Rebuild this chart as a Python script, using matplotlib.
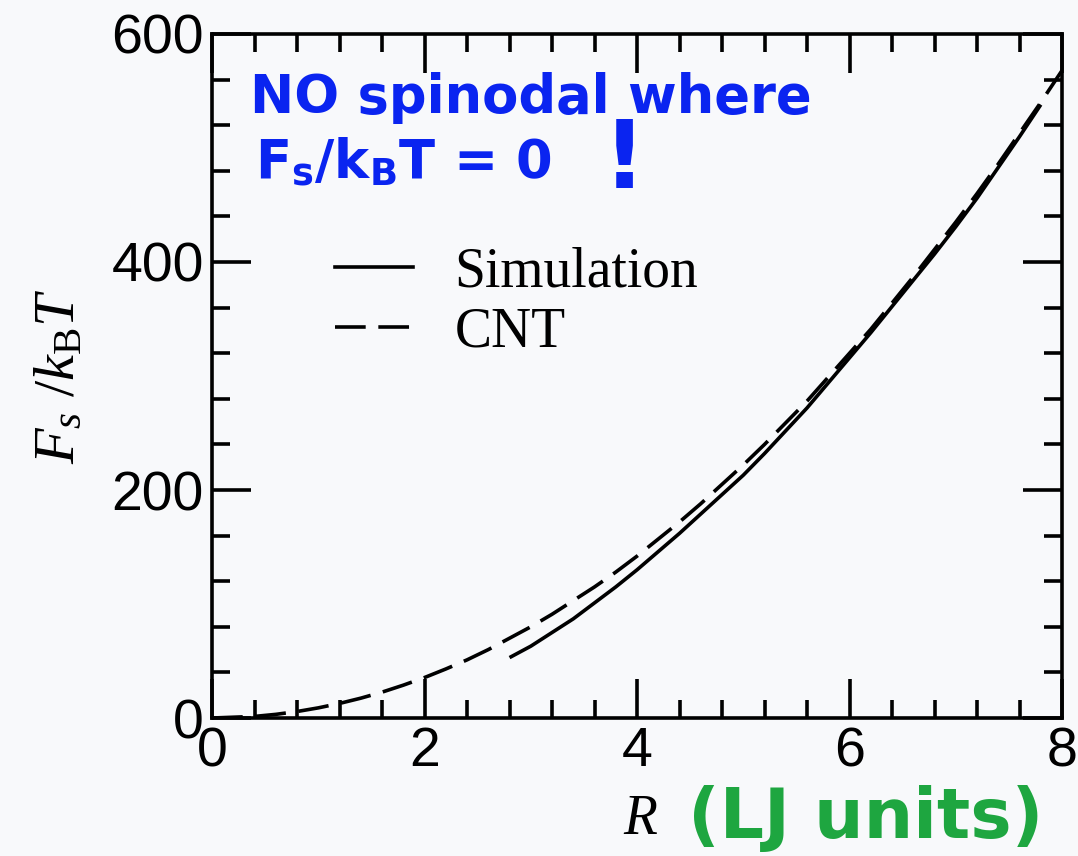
import matplotlib
matplotlib.use('Agg')
import matplotlib.pyplot as plt
from matplotlib.lines import Line2D
from matplotlib.ticker import MultipleLocator

# values
r_cnt = [0.0, 0.4, 0.6, 0.8, 1.0, 1.2, 1.4, 1.6, 1.8, 2.0, 2.2, 2.4, 2.6, 2.8, 3.0, 3.2, 3.4, 3.6, 3.8, 4.0,
         4.2, 4.4, 4.6, 4.8, 5.0, 5.2, 5.4, 5.6, 5.8, 6.0, 6.2, 6.4, 6.6, 6.8, 7.0, 7.2, 7.4, 7.6, 7.8, 8.0]
f_cnt = [0, 1.4, 3.2, 5.7, 8.9, 12.8, 17.4, 22.7, 28.8, 35.5, 43, 51, 60, 70, 80, 91, 103, 115, 128, 142,
         157, 172, 188, 205, 222, 240, 259, 278, 299, 320, 341, 364, 387, 411, 435, 460, 486, 513, 540, 568]
r_sim = [2.8, 3.0, 3.2, 3.4, 3.6, 3.8, 4.0, 4.2, 4.4, 4.6, 4.8, 5.0, 5.2, 5.4, 5.6, 5.8, 6.0, 6.2, 6.4,
         6.6, 6.8, 7.0, 7.2, 7.4, 7.6, 7.8]
f_sim = [53, 63, 75, 87, 101, 115, 130, 146, 162, 179, 196, 213, 232, 252, 272, 294, 316, 338, 361,
         384, 407, 431, 456, 483, 510, 538]
xticks = [0, 2, 4, 6, 8]
yticks = [0, 200, 400, 600]

plt.rcParams['mathtext.fontset'] = 'custom'
plt.rcParams['mathtext.rm'] = 'Liberation Serif'
plt.rcParams['mathtext.it'] = 'Liberation Serif:italic'
plt.rcParams['mathtext.bf'] = 'DejaVu Sans:bold'

BG = '#f8f9fb'
DASH = (8.5, 3.5)
fig = plt.figure(figsize=(10.78, 8.56), dpi=100, facecolor=BG)
ax = fig.add_axes([0.1967, 0.1612, 0.7885, 0.7991], facecolor=BG)

ax.plot(r_sim, f_sim, color='black', lw=2.6, solid_capstyle='butt')
cnt, = ax.plot(r_cnt, f_cnt, color='black', lw=2.6, dash_capstyle='butt')
cnt.set_dashes(DASH)

ax.set_xlim(0, 8)
ax.set_ylim(0, 600)
ax.set_xticks(xticks)
ax.set_yticks(yticks)
ax.xaxis.set_minor_locator(MultipleLocator(0.4))
ax.yaxis.set_minor_locator(MultipleLocator(40))
for s in ax.spines.values():
    s.set_linewidth(2.6)
ax.tick_params(which='both', direction='in', top=True, right=True, width=2.6, labelsize=40,
               labelfontfamily='Liberation Sans')
ax.tick_params(which='major', length=28, pad=6)
ax.tick_params(which='minor', length=13)

ax.set_ylabel(r'$F_s\ /k_{\rm B}T$', fontsize=42)
ax.yaxis.set_label_coords(-0.148, 0.5)

h1 = Line2D([], [], color='black', lw=2.6)
h2 = Line2D([], [], color='black', lw=2.6, dashes=DASH)
ax.legend([h1, h2], ['Simulation', 'CNT'], loc='upper left', bbox_to_anchor=(0.112, 0.73),
          frameon=False, prop={'family': 'Liberation Serif', 'size': 40},
          handlelength=1.4, handletextpad=0.75, labelspacing=0.15, borderpad=0)

fig.text(0.594, 0.042, 'R', fontsize=40, family='Liberation Serif', style='italic', ha='center', va='center')
fig.text(0.638, 0.044, '(LJ units)', fontsize=50, family='DejaVu Sans', weight='bold', color='#1ea640',
         ha='left', va='center')

blue = '#0a24f0'
ax.text(0.045, 0.944, 'NO spinodal where', transform=ax.transAxes, fontsize=38, family='DejaVu Sans',
        weight='bold', color=blue, ha='left', va='top')
ax.text(0.05, 0.85, r'F$_\mathbf{s}$/k$_\mathbf{B}$T = 0', transform=ax.transAxes, fontsize=38,
        family='DejaVu Sans', weight='bold', color=blue, ha='left', va='top')
ax.text(0.485, 0.88, '!', transform=ax.transAxes, fontsize=68, family='DejaVu Sans',
        weight='bold', color=blue, ha='center', va='top')

fig.savefig('out.png', dpi=100, facecolor=BG)
